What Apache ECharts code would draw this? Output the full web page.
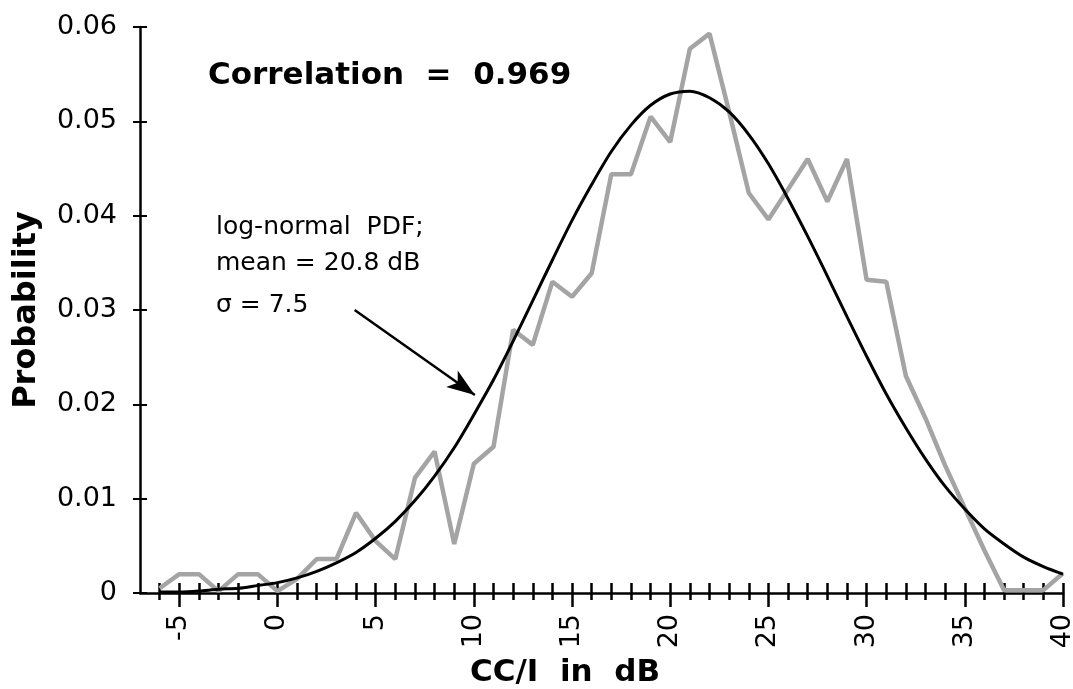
<!DOCTYPE html>
<html>
<head>
<meta charset="utf-8">
<script src="https://cdn.jsdelivr.net/npm/echarts@6/dist/echarts.min.js"></script>
<style>
  html, body { margin: 0; padding: 0; background: #fff; }
  #chart { width: 1073px; height: 689px; }
</style>
</head>
<body>
<div id="chart"></div>
<script>
// CC/I in dB, one point per integer
const xValues = [-6, -5, -4, -3, -2, -1, 0, 1, 2, 3, 4, 5, 6, 7, 8, 9, 10, 11, 12, 13, 14, 15, 16, 17,
  18, 19, 20, 21, 22, 23, 24, 25, 26, 27, 28, 29, 30, 31, 32, 33, 34, 35, 36, 37, 38, 39, 40]

// measured histogram (grey line)
const measured = [0.0005, 0.0020, 0.0020, 0.0002, 0.0020, 0.0020, 0.0002, 0.0015, 0.0036, 0.0036,
  0.0085, 0.0055, 0.0036, 0.0122, 0.0150, 0.0052, 0.0137, 0.0155, 0.0279, 0.0263, 0.0330, 0.0314,
  0.0339, 0.0444, 0.0444, 0.0505, 0.0478, 0.0577, 0.0593, 0.0510, 0.0424, 0.0396, 0.0428, 0.0460,
  0.0415, 0.0460, 0.0332, 0.0330, 0.0230, 0.0185, 0.0135, 0.0090, 0.0045, 0.0003, 0.0003, 0.0003, 0.0021]

// log-normal PDF fit (black curve)
const pdfFit = [0.0001, 0.0001, 0.0002, 0.0004, 0.0005, 0.0008, 0.0011, 0.0016, 0.0023, 0.0032,
  0.0043, 0.0058, 0.0076, 0.0098, 0.0124, 0.0154, 0.0189, 0.0226, 0.0267, 0.0310, 0.0353, 0.0395,
  0.0433, 0.0468, 0.0496, 0.0517, 0.0529, 0.0532, 0.0525, 0.0510, 0.0486, 0.0455, 0.0418, 0.0378,
  0.0336, 0.0293, 0.0251, 0.0211, 0.0175, 0.0142, 0.0113, 0.0089, 0.0068, 0.0052, 0.0038, 0.0028, 0.0020]

const xTickLabels = [-5, 0, 5, 10, 15, 20, 25, 30, 35, 40]
const yTickLabels = [0, 0.01, 0.02, 0.03, 0.04, 0.05, 0.06]

const font = '"DejaVu Sans", sans-serif'

const chart = echarts.init(document.getElementById('chart'), null, { renderer: 'canvas' })

const xBase = { type: 'value', min: -7, max: 40, splitLine: { show: false } }
const yBase = { type: 'value', min: 0, max: 0.06, splitLine: { show: false } }

chart.setOption({
  backgroundColor: '#fff',
  animation: false,
  grid: { left: 140, right: 10, top: 27, bottom: 96, containLabel: false, outerBoundsMode: 'none' },
  xAxis: [
    Object.assign({}, xBase, {
      axisLine: { onZero: false, lineStyle: { color: '#000', width: 2.5 } },
      axisTick: { customValues: xValues, inside: false, length: 7, lineStyle: { color: '#000', width: 2.5 } },
      axisLabel: {
        customValues: xTickLabels, rotate: 90, margin: 21,
        color: '#000', fontSize: 27, fontFamily: font
      }
    }),
    Object.assign({}, xBase, {
      position: 'bottom',
      axisLine: { show: false, onZero: false },
      axisTick: { customValues: xValues, inside: true, length: 10, lineStyle: { color: '#000', width: 2.5 } },
      axisLabel: { show: false }
    }),
    Object.assign({}, xBase, {
      position: 'bottom',
      axisLine: { show: false, onZero: false },
      axisTick: { customValues: xTickLabels, inside: false, length: 14, lineStyle: { color: '#000', width: 2.5 } },
      axisLabel: { show: false }
    })
  ],
  yAxis: [
    Object.assign({}, yBase, {
      name: 'Probability',
      nameLocation: 'middle',
      nameGap: 97,
      nameTextStyle: { color: '#000', fontSize: 32, fontWeight: 'bold', fontFamily: font },
      axisLine: { onZero: false, lineStyle: { color: '#000', width: 2.5 } },
      axisTick: { customValues: yTickLabels, inside: false, length: 7, lineStyle: { color: '#000', width: 2 } },
      axisLabel: {
        customValues: yTickLabels, margin: 23,
        color: '#000', fontSize: 27, fontFamily: font,
        formatter: v => (v === 0 ? '0' : v.toFixed(2))
      }
    }),
    Object.assign({}, yBase, {
      position: 'left',
      axisLine: { show: false, onZero: false },
      axisTick: { customValues: yTickLabels, inside: true, length: 7, lineStyle: { color: '#000', width: 2 } },
      axisLabel: { show: false }
    })
  ],
  series: [
    {
      name: 'measured',
      type: 'line',
      xAxisIndex: 0,
      yAxisIndex: 0,
      data: xValues.map((x, i) => [x, measured[i]]),
      showSymbol: false,
      lineStyle: { color: '#a4a4a4', width: 4.5 },
      z: 2
    },
    {
      name: 'log-normal PDF',
      type: 'line',
      xAxisIndex: 0,
      yAxisIndex: 0,
      data: xValues.map((x, i) => [x, pdfFit[i]]),
      showSymbol: false,
      smooth: 0.3,
      lineStyle: { color: '#000', width: 3 },
      z: 3,
      markLine: {
        silent: true,
        symbol: ['none', 'arrow'],
        label: { show: false },
        lineStyle: { color: '#000', width: 2.5, type: 'solid' },
        data: [[
          { coord: [3.93, 0.0300], symbol: 'none' },
          { coord: [10.05, 0.0210], symbol: 'arrow', symbolSize: [15, 28] }
        ]]
      }
    }
  ],
  graphic: [
    { type: 'text', left: 208, top: 60,
      style: { text: 'Correlation  =  0.969', font: 'bold 31px ' + font, fill: '#000' } },
    { type: 'text', left: 216, top: 215,
      style: { text: 'log-normal  PDF;', font: '25px ' + font, fill: '#000' } },
    { type: 'text', left: 216, top: 251,
      style: { text: 'mean = 20.8 dB', font: '25px ' + font, fill: '#000' } },
    { type: 'text', left: 216, top: 293,
      style: { text: 'σ = 7.5', font: '25px ' + font, fill: '#000' } },
    { type: 'text', left: 470, top: 657,
      style: { text: 'CC/I  in  dB', font: 'bold 31px ' + font, fill: '#000' } }
  ]
})
</script>
</body>
</html>
